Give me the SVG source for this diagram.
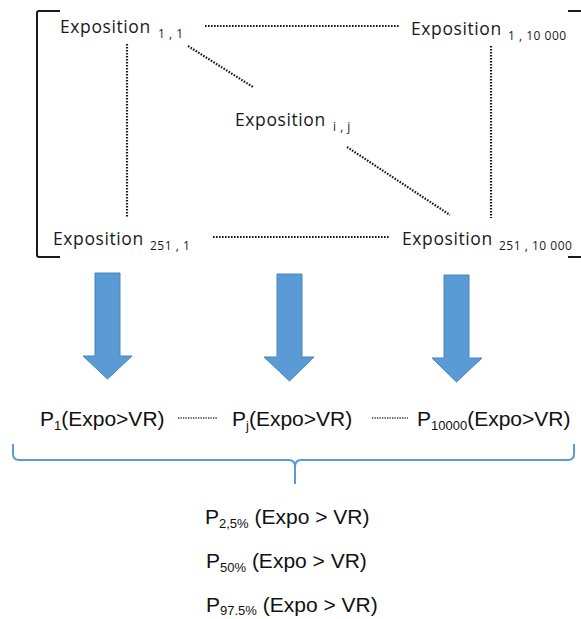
<svg xmlns="http://www.w3.org/2000/svg" width="581" height="619" viewBox="0 0 581 619">
<style>
.ex{font-family:"Open Sans","Noto Sans",sans-serif;font-size:17.5px;letter-spacing:0.6px;fill:#1a1a1a}
.sb{font-family:"Open Sans","Noto Sans",sans-serif;font-size:12px;letter-spacing:0.5px;fill:#1a1a1a}
.pt{font-family:"Liberation Sans",Arial,sans-serif;font-size:21px;fill:#111}
.ps{font-family:"Liberation Sans",Arial,sans-serif;font-size:13px;fill:#111}
.dot{stroke:#1a1a1a;stroke-width:2.2;stroke-dasharray:1.6 1.4;fill:none}
.dot2{stroke:#333;stroke-width:1.3;stroke-dasharray:1.3 1.2;fill:none}
.brk{stroke:#1a1a1a;stroke-width:2;fill:none}
.arr{fill:#5B9BD5;stroke:#4a84bd;stroke-width:1}
.brace{stroke:#5B9BD5;stroke-width:2;fill:none}
</style>
<g id="matrix-bracket">
<path class="brk" d="M60,11 H39 Q37,11 37,13 V255 Q37,257 39,257 H60"/>
<path class="brk" d="M568,11 H582 V257 H568"/>
</g>
<g id="connectors">
<line class="dot" x1="205" y1="26" x2="400" y2="26"/>
<line class="dot" x1="127" y1="44" x2="127" y2="217"/>
<line class="dot" x1="491" y1="46" x2="491" y2="218"/>
<line class="dot" x1="188" y1="46" x2="253" y2="87"/>
<line class="dot" x1="347" y1="147" x2="450" y2="215"/>
<line class="dot" x1="213" y1="237" x2="390" y2="237"/>
<line class="dot2" x1="178" y1="418" x2="218" y2="418"/>
<line class="dot2" x1="372" y1="418" x2="408" y2="418"/>
</g>
<g id="expo-1-1"><text class="ex" x="60" y="33">Exposition</text><text class="sb" x="158" y="38">1 , 1</text></g>
<g id="expo-1-10000"><text class="ex" x="411" y="35">Exposition</text><text class="sb" x="508" y="40">1 , 10 000</text></g>
<g id="expo-i-j"><text class="ex" x="235" y="126">Exposition</text><text class="sb" x="333" y="131">i , j</text></g>
<g id="expo-251-1"><text class="ex" x="53" y="245">Exposition</text><text class="sb" x="150" y="250">251 , 1</text></g>
<g id="expo-251-10000"><text class="ex" x="402" y="245">Exposition</text><text class="sb" x="499" y="250">251 , 10 000</text></g>
<g id="arrow-1"><polygon class="arr" points="95,273 120,273 120,356 132,356 107.5,379 83,356 95,356"/></g>
<g id="arrow-j"><polygon class="arr" points="277,274 302,274 302,357 314,357 289.5,381 264,357 277,357"/></g>
<g id="arrow-10000"><polygon class="arr" points="444,275 469,275 469,358 482,358 456.5,382 432,358 444,358"/></g>
<g id="p1"><text class="pt" x="40" y="426">P<tspan class="ps" dy="4">1</tspan><tspan dy="-4">(Expo&gt;VR)</tspan></text></g>
<g id="pj"><text class="pt" x="232" y="426">P<tspan class="ps" dy="4">j</tspan><tspan dy="-4">(Expo&gt;VR)</tspan></text></g>
<g id="p10000"><text class="pt" x="417" y="426">P<tspan class="ps" dy="4">10000</tspan><tspan dy="-4">(Expo&gt;VR)</tspan></text></g>
<g id="brace"><path class="brace" d="M13,444 V454 Q13,460 19,460 H289 Q295,460 295,467 V484 M295,467 Q295,460 301,460 H568 Q574,460 574,454 V444"/></g>
<g id="p2-5"><text class="pt" x="205" y="524">P<tspan class="ps" dy="4">2,5%</tspan><tspan dy="-4"> (Expo &gt; VR)</tspan></text></g>
<g id="p50"><text class="pt" x="206" y="568">P<tspan class="ps" dy="4">50%</tspan><tspan dy="-4"> (Expo &gt; VR)</tspan></text></g>
<g id="p97-5"><text class="pt" x="206" y="612">P<tspan class="ps" dy="3">97.5%</tspan><tspan dy="-3"> (Expo &gt; VR)</tspan></text></g>
</svg>
